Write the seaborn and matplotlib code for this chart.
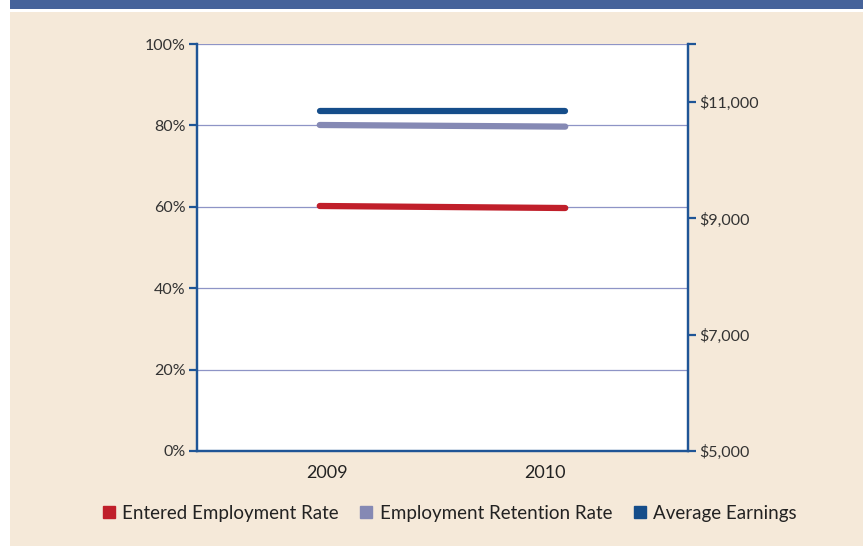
import matplotlib
matplotlib.use("Agg")
import matplotlib.pyplot as plt
import matplotlib.transforms as mtransforms
import seaborn as sns
import pandas as pd
from matplotlib.patches import Rectangle
from matplotlib.lines import Line2D
from matplotlib.ticker import FuncFormatter

years = ["2009", "2010"]
entered_rate = [60.2, 59.7]
retention_rate = [80.1, 79.7]
avg_earnings = [10850, 10850]

left_ticks = [0, 20, 40, 60, 80, 100]
right_ticks = [5000, 7000, 9000, 11000, 12000]

RED = "#c01f2a"
GREY = "#8589b4"
BLUE = "#154d8a"
SPINE = "#1f5596"
GRID = "#8e94c6"
BG = "#f5e9d9"

sns.set_theme(style="white")
plt.rcParams["font.family"] = ["Lato", "DejaVu Sans"]

fig = plt.figure(figsize=(8.63, 5.46), dpi=100, facecolor="white")
fig.patches.append(Rectangle((10/863, 0), 1, (546-12)/546, transform=fig.transFigure,
                             facecolor=BG, edgecolor="none", zorder=-10))
fig.patches.append(Rectangle((10/863, (546-9)/546), 1, 9/546, transform=fig.transFigure,
                             facecolor="#46639a", edgecolor="none", zorder=-10))

ax = fig.add_axes([197/863, (546-451)/546, (688-197)/863, (451-44)/546])
ax.set_facecolor("white")
ax.set_zorder(1)

df_rates = pd.DataFrame({
    "year": years * 2,
    "value": entered_rate + retention_rate,
    "series": ["Entered Employment Rate"] * 2 + ["Employment Retention Rate"] * 2,
})
sns.lineplot(data=df_rates, x="year", y="value", hue="series",
             palette=[RED, GREY], linewidth=4.5, ax=ax, legend=False,
             solid_capstyle="round", zorder=3)
ax.set_ylim(0, 100)
ax.set_xlim(-0.5, 1.5)
ax.set_yticks(left_ticks)
ax.yaxis.set_major_formatter(FuncFormatter(lambda v, p: f"{int(v)}%"))
ax.grid(axis="y", color=GRID, linewidth=0.9)
ax.set_axisbelow(True)
ax.set_xlabel("")
ax.set_ylabel("")

ax2 = ax.twinx()
ax2.set_zorder(2)
df_earn = pd.DataFrame({"year": years, "value": avg_earnings})
sns.lineplot(data=df_earn, x="year", y="value", color=BLUE, linewidth=4.5,
             ax=ax2, solid_capstyle="round", zorder=3)
ax2.set_ylim(5000, 12000)
ax2.set_xlim(-0.5, 1.5)
ax2.set_yticks(right_ticks)
ax2.set_yticklabels([f"${v:,}" if v != 12000 else "" for v in right_ticks])
ax2.set_ylabel("")
ax2.grid(False)

for a in (ax, ax2):
    a.spines["top"].set_visible(False)
    for s in ("left", "right", "bottom"):
        a.spines[s].set_color(SPINE)
        a.spines[s].set_linewidth(1.6)

ax.tick_params(axis="y", which="both", left=True, length=6, width=1.6, color=SPINE,
               labelsize=11.5, labelcolor="#333333", pad=2)
ax.tick_params(axis="x", bottom=False, labelsize=13, labelcolor="#222222", pad=4)
ax2.tick_params(axis="y", right=True, length=6, width=1.6, color=SPINE,
                labelsize=11.5, labelcolor="#333333", pad=2)

# nudge the year labels to where they sit in the reference
offsets = [7, -20]
for lbl, dx in zip(ax.get_xticklabels(), offsets):
    lbl.set_transform(lbl.get_transform() +
                      mtransforms.ScaledTranslation(dx / 100, 0, fig.dpi_scale_trans))

handles = [
    Line2D([], [], marker="s", linestyle="none", color=RED, markersize=8),
    Line2D([], [], marker="s", linestyle="none", color=GREY, markersize=8),
    Line2D([], [], marker="s", linestyle="none", color=BLUE, markersize=8),
]
labels = ["Entered Employment Rate", "Employment Retention Rate", "Average Earnings"]
fig.legend(handles, labels, loc="center", bbox_to_anchor=(448/863, (546-513)/546),
           ncol=3, frameon=False, fontsize=13.5, handletextpad=0.2,
           columnspacing=1.0, handlelength=1.0, labelcolor="#222222")

fig.savefig("out.png", dpi=100, facecolor=fig.get_facecolor())
